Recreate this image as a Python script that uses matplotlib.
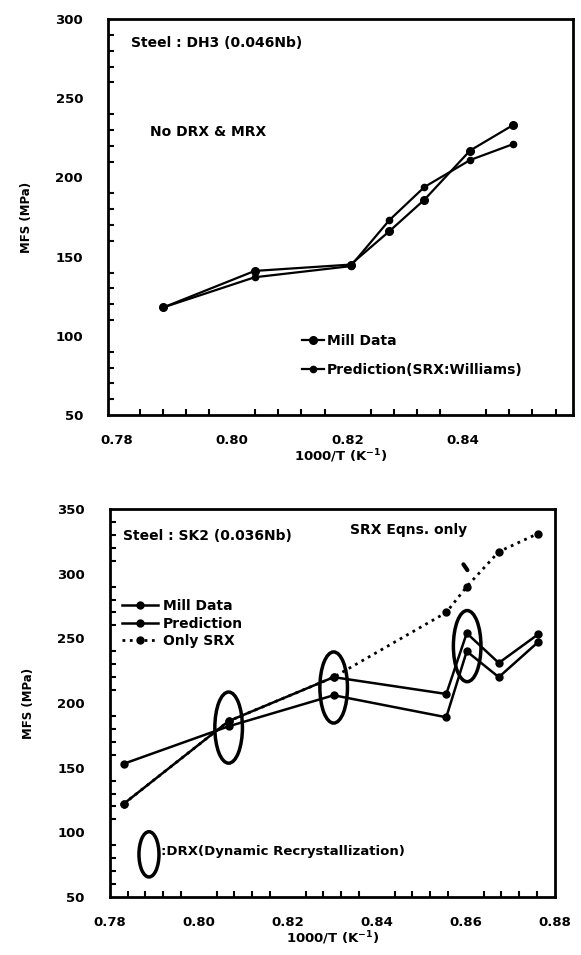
import matplotlib.pyplot as plt
import numpy as np
from matplotlib.patches import Ellipse
from matplotlib.ticker import MultipleLocator

plt.rcParams['font.family'] = ['DejaVu Sans']
plt.rcParams['font.weight'] = 'bold'

# top panel: Steel DH3
x_dh3 = [0.7881, 0.8039, 0.8205, 0.8272, 0.8333, 0.8412, 0.8486]
mill_dh3 = [118, 141, 145, 166, 186, 217, 233]
pred_dh3 = [118, 137, 144, 173, 194, 211, 221]

# bottom panel: Steel SK2
x_sk2 = [0.7831, 0.8067, 0.8303, 0.8556, 0.8602, 0.8674, 0.8762]
mill_sk2 = [122, 186, 220, 207, 254, 231, 253]
pred_sk2 = [153, 182, 206, 189, 240, 220, 247]
srx_sk2 = [122, 186, 220, 270, 290, 317, 331]

# DRX circles (x centre, y centre)
drx_x = [0.8067, 0.8303, 0.8603]
drx_y = [181, 212, 244]

fig = plt.figure(figsize=(5.81, 9.55), dpi=100)

def style_axes(ax, xmin, xmax, ymin, ymax, xmaj, ymaj, xmin_t, ymin_t):
    ax.set_xlim(xmin, xmax)
    ax.set_ylim(ymin, ymax)
    ax.xaxis.set_major_locator(MultipleLocator(xmaj))
    ax.yaxis.set_major_locator(MultipleLocator(ymaj))
    ax.xaxis.set_minor_locator(MultipleLocator(xmin_t))
    ax.yaxis.set_minor_locator(MultipleLocator(ymin_t))
    ax.tick_params(which='both', direction='in', top=False, right=False,
                   labelsize=9.5, width=1.5)
    ax.tick_params(which='major', length=0)
    ax.tick_params(axis='x', which='major', pad=14)
    ax.tick_params(axis='y', which='major', pad=18)
    ax.tick_params(which='minor', length=4)
    for s in ax.spines.values():
        s.set_linewidth(2)
    ax.set_xlabel('1000/T (K$^{-1}$)', fontsize=9.5, fontweight='bold', labelpad=0)
    ax.set_ylabel('MFS (MPa)', fontsize=8.5, fontweight='bold', labelpad=16)

# ---- top
ax1 = fig.add_axes([0.186, 0.5654, 0.80, 0.4146])
ax1.plot(x_dh3, mill_dh3, 'k-', marker='o', ms=5.5, lw=1.6, label='Mill Data')
ax1.plot(x_dh3, pred_dh3, 'k-', marker='o', ms=4.5, lw=1.6, label='Prediction(SRX:Williams)')
style_axes(ax1, 0.7785, 0.859, 50, 300, 0.02, 50, 0.004, 10)
ax1.xaxis.set_major_formatter(lambda v, p: f'{v:.2f}' if v < 0.85 else '')
ax1.text(0.05, 0.93, 'Steel : DH3 (0.046Nb)', transform=ax1.transAxes,
         fontsize=10, fontweight='bold')
ax1.text(0.09, 0.705, 'No DRX & MRX', transform=ax1.transAxes,
         fontsize=10, fontweight='bold')
ax1.legend(loc='lower left', bbox_to_anchor=(0.39, 0.065), frameon=False,
           fontsize=10, handlelength=1.6, handletextpad=0.2, labelspacing=1.05)

# ---- bottom
ax2 = fig.add_axes([0.189, 0.0607, 0.766, 0.4063])
ax2.plot(x_sk2, mill_sk2, 'k-', marker='o', ms=5, lw=1.8, label='Mill Data')
ax2.plot(x_sk2, pred_sk2, 'k-', marker='o', ms=5, lw=1.8, label='Prediction')
ax2.plot(x_sk2, srx_sk2, 'k:', marker='o', ms=5, lw=2, label='Only SRX')
style_axes(ax2, 0.78, 0.88, 50, 350, 0.02, 50, 0.004, 10)
ax2.xaxis.set_major_formatter(lambda v, p: f'{v:.2f}')
for cx, cy in zip(drx_x, drx_y):
    ax2.add_patch(Ellipse((cx, cy), 0.0062, 55, fill=False, lw=2.5, ec='k'))
ax2.add_patch(Ellipse((0.7888, 83), 0.0045, 35, fill=False, lw=2.5, ec='k'))
ax2.text(0.7915, 85, ':DRX(Dynamic Recrystallization)', fontsize=9.5,
         fontweight='bold', va='center')
ax2.annotate('', xy=(0.8607, 301), xytext=(0.8591, 309),
             arrowprops=dict(arrowstyle='-', lw=3, color='k'))
ax2.text(0.03, 0.92, 'Steel : SK2 (0.036Nb)', transform=ax2.transAxes,
         fontsize=10, fontweight='bold')
ax2.text(0.54, 0.935, 'SRX Eqns. only', transform=ax2.transAxes,
         fontsize=10, fontweight='bold')
ax2.legend(loc='upper left', bbox_to_anchor=(0.0, 0.8), frameon=False,
           fontsize=10, handlelength=2.6, handletextpad=0.3, labelspacing=0.25)

fig.savefig('out.png', dpi=100)
